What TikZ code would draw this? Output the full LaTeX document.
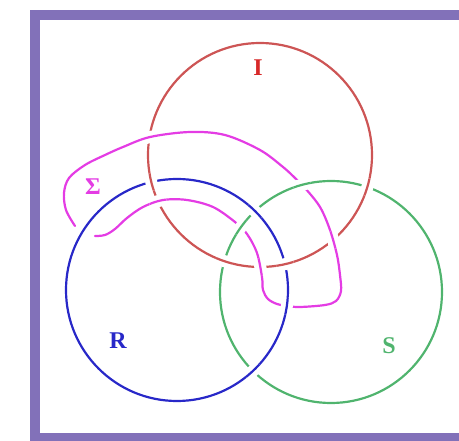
\documentclass[tikz,border=0pt]{standalone}
\usepackage{fontspec}
\setmainfont{Liberation Serif}
\usetikzlibrary{intersections}
\definecolor{framec}{RGB}{130,113,185}
\definecolor{redc}{RGB}{205,85,85}
\definecolor{bluec}{RGB}{40,40,200}
\definecolor{greenc}{RGB}{80,180,110}
\definecolor{magc}{RGB}{228,60,228}
\definecolor{labred}{RGB}{215,40,40}
\newcommand\pRed{(260,155) circle[radius=112pt]}
\newcommand\pBlue{(177,290) circle[radius=111pt]}
\newcommand\pGreen{(331,292) circle[radius=111pt]}
\newcommand\pMag{plot[smooth, tension=0.55] coordinates {(75,226) (66,210) (64,193) (69,178) (85,165) (105,155) (123,147) (150,137) (190,132) (225,135) (260,150) (283,167) (295,178) (305,188) (320,207) (330,230) (337,255) (340,275) (341,291) (336,301) (325,305) (300,307) (287,306) (277,304) (268,299) (263,290) (262,277) (257,253) (247,234) (235,222) (213,207) (187,200) (163,200) (143,207) (127,218) (115,229) (105,235) (95,236)}}
\tikzset{
  halo/.style={draw=white, line width=12pt},
  redline/.style={draw=redc, line width=2.2pt},
  blueline/.style={draw=bluec, line width=2.2pt},
  greenline/.style={draw=greenc, line width=2.2pt},
  magline/.style={draw=magc, line width=2.2pt, line cap=round},
  lab/.style={font=\bfseries\fontsize{24}{24}\selectfont},
  frame/.style={draw=framec, line width=10pt}
}
\newcommand\crossfix[4]{%
  \path[name intersections={of=#1 and #2, name=X#1#2, total=\tot}] \pgfextra{\xdef\ntot{\tot}};
  \foreach \k in {1,...,\ntot}{
    \begin{scope}
      \clip (X#1#2-\k) circle (9pt);
      \draw[halo] #3;
      \draw[#4] #3;
    \end{scope}
  }%
}
\begin{document}
\begin{tikzpicture}[x=1pt,y=-1pt]
\useasboundingbox (0,0) rectangle (459,441);
\clip (0,0) rectangle (459,441);
\draw[frame] (35,15) rectangle (490,438);
\draw[redline, name path=red] \pRed;
\draw[blueline, name path=blue] \pBlue;
\draw[greenline, name path=green] \pGreen;
\draw[magline, name path=mag] \pMag;
\crossfix{red}{blue}{\pRed}{redline}
\crossfix{red}{green}{\pRed}{redline}
\crossfix{blue}{green}{\pBlue}{blueline}
\crossfix{mag}{red}{\pMag}{magline}
\crossfix{green}{mag}{\pGreen}{greenline}
\crossfix{blue}{mag}{\pBlue}{blueline}
\node[lab, text=labred] (labI) at (258,68) {I};
\node[lab, text=magc] (labS) at (93,187) {Σ};
\node[lab, text=bluec] (labR) at (118,341) {R};
\node[lab, text=greenc] (labSS) at (389,346) {S};
\end{tikzpicture}
\end{document}
